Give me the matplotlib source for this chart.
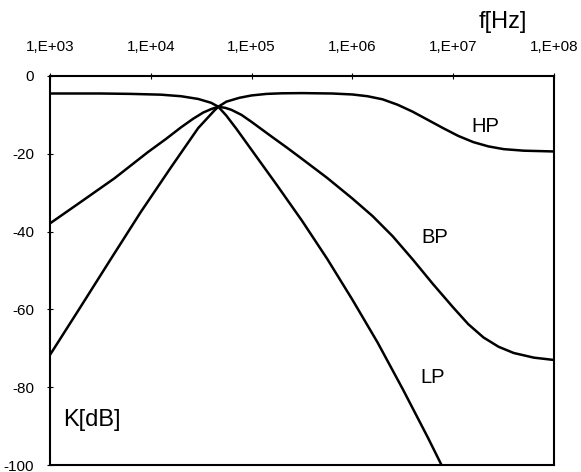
import numpy as np
import matplotlib
matplotlib.use("Agg")
import matplotlib.pyplot as plt
from matplotlib.ticker import FixedLocator, FixedFormatter, NullLocator

plt.rcParams['font.family'] = ['Liberation Sans', 'DejaVu Sans']

# log10(f) and K[dB]
lp_logf = [3.0, 3.5, 3.8, 4.1, 4.3, 4.47, 4.6, 4.67, 4.75, 4.85, 5.0, 5.25, 5.5, 5.75, 6.0, 6.25, 6.5, 6.75, 6.89, 7.0]
lp_k = [-4.5, -4.5, -4.6, -4.8, -5.2, -5.9, -6.9, -7.9, -10.2, -13.6, -19.0, -28.0, -37.2, -47.0, -57.5, -68.5, -80.5, -93.0, -100.3, -106.0]

bp_logf = [3.0, 3.31, 3.64, 3.97, 4.15, 4.3, 4.42, 4.52, 4.6, 4.67, 4.74, 4.8, 4.9, 5.0, 5.1, 5.2, 5.35, 5.5, 5.75, 6.0, 6.2,
           6.4, 6.6, 6.8, 7.0, 7.15, 7.3, 7.45, 7.6, 7.8, 8.0]
bp_k = [-37.9, -32.3, -26.3, -19.6, -16.2, -13.2, -11.0, -9.4, -8.5, -7.9, -8.2, -8.7, -10.0, -11.8, -13.7, -15.6, -18.4, -21.3, -26.2, -31.5, -36.0,
        -41.2, -47.2, -53.5, -59.5, -63.8, -67.2, -69.6, -71.2, -72.4, -73.0]

hp_logf = [3.0, 3.3, 3.6, 3.9, 4.2, 4.47, 4.63, 4.67, 4.75, 4.88, 5.0, 5.15, 5.3, 5.5, 5.8, 6.0, 6.15, 6.3, 6.45, 6.6, 6.75,
           6.9, 7.05, 7.2, 7.35, 7.5, 7.7, 8.0]
hp_k = [-71.7, -59.5, -47.2, -35.0, -23.5, -13.4, -8.9, -7.9, -6.6, -5.6, -5.0, -4.6, -4.45, -4.4, -4.5, -4.75, -5.2, -6.0, -7.4, -9.2, -11.3,
        -13.4, -15.4, -17.0, -18.1, -18.8, -19.2, -19.4]

xticks = [1e3, 1e4, 1e5, 1e6, 1e7, 1e8]
xtick_labels = ["1,E+03", "1,E+04", "1,E+05", "1,E+06", "1,E+07", "1,E+08"]
yticks = [0, -20, -40, -60, -80, -100]

fig = plt.figure(figsize=(5.81, 4.72), dpi=100)
ax = fig.add_axes([0.086, 0.0148, 0.8675, 0.8242])

for lf, k in [(lp_logf, lp_k), (bp_logf, bp_k), (hp_logf, hp_k)]:
    ax.plot(10 ** np.array(lf), k, color="black", lw=1.8, solid_joinstyle="round")

ax.set_xscale("log")
ax.set_xlim(1e3, 1e8)
ax.set_ylim(-100, 0)

ax.xaxis.set_major_locator(FixedLocator(xticks))
ax.xaxis.set_major_formatter(FixedFormatter(xtick_labels))
ax.xaxis.set_minor_locator(NullLocator())
ax.xaxis.tick_top()
ax.tick_params(axis="x", direction="inout", length=5, width=0.8, pad=13, labelsize=11)

ax.set_yticks(yticks)
ax.set_yticklabels([str(v) for v in yticks])
ax.tick_params(axis="y", direction="inout", length=5, width=0.8, pad=9, labelsize=11)

for s in ax.spines.values():
    s.set_linewidth(1.5)

ax.text(10 ** 7.32, -13.1, "HP", fontsize=14.5, ha="center", va="center")
ax.text(10 ** 6.82, -41.4, "BP", fontsize=14.5, ha="center", va="center")
ax.text(10 ** 6.80, -77.4, "LP", fontsize=14.5, ha="center", va="center")
ax.text(10 ** 3.13, -88.4, "K[dB]", fontsize=17, ha="left", va="center")
fig.text(503 / 581, 1 - 22 / 472, "f[Hz]", fontsize=17, ha="center", va="center")

fig.savefig("out.png", dpi=100)
